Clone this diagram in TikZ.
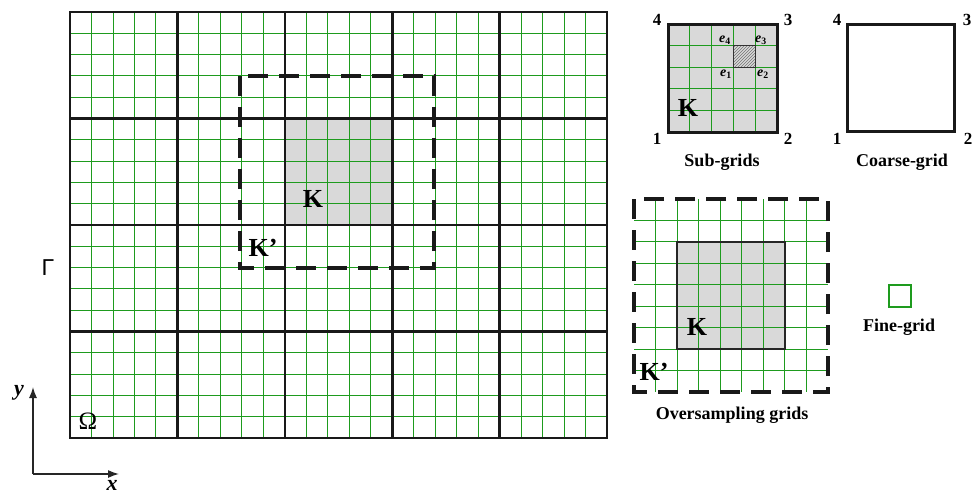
\documentclass[tikz,border=0pt]{standalone}
\usepackage{fontspec}
\setmainfont{Liberation Serif}
\newfontfamily\sansf{Liberation Sans}
\usetikzlibrary{patterns,arrows.meta}
\definecolor{fgreen}{RGB}{30,155,30}
\definecolor{kgray}{RGB}{217,217,217}
\begin{document}
\begin{tikzpicture}[x=1pt,y=-1pt,
 fine/.style={fgreen,line width=0.9pt},
 coarse/.style={black!90,line width=2.6pt},
 dashbox/.style={black!90,line width=3.5pt,dash pattern=on 20pt off 11pt},
 numlbl/.style={font=\fontsize{17}{17}\selectfont\bfseries,inner sep=0},
 caplbl/.style={font=\fontsize{18}{18}\selectfont\bfseries,inner sep=0},
 biglbl/.style={font=\fontsize{26}{26}\selectfont\bfseries,inner sep=0},
 elbl/.style={font=\fontsize{14}{14}\selectfont\bfseries\itshape,inner sep=0},
 axisarrow/.style={-{Latex[length=11pt,width=8pt]},line width=1.4pt,black!85},
]
\useasboundingbox (0,0) rectangle (978,493);

% ---------- main domain ----------
\fill[kgray] (284.8,118.5) rectangle (392.2,225);
\foreach \i in {1,...,24} \draw[fine] ({70+\i*21.48},12) -- ({70+\i*21.48},438);
\foreach \j in {1,...,19} \draw[fine] (70,{12+\j*21.3}) -- (607,{12+\j*21.3});
\foreach \i in {1,...,4} \draw[coarse] ({70+\i*107.4},12) -- ({70+\i*107.4},438);
\foreach \j in {1,...,3} \draw[coarse] (70,{12+\j*106.5}) -- (607,{12+\j*106.5});
\draw[coarse] (70,12) rectangle (607,438);
\draw[dashbox] (240,76) rectangle (434,268);
\node[biglbl] (Kmain) at (313,199) {K};
\node[biglbl] (Kpmain) at (263,248) {K'};
\node[inner sep=0,font=\sansf\fontsize{23}{23}\selectfont] (Gamma) at (48,268) {Γ};
\node[inner sep=0,font=\fontsize{25}{25}\selectfont] (Omega) at (88,421) {Ω};

% ---------- axes ----------
\coordinate (O) at (33,474);
\coordinate (Ytip) at (33,387);
\coordinate (Xtip) at (119,474);
\draw[axisarrow] (O) -- (Ytip);
\draw[axisarrow] (O) -- (Xtip);
\node[inner sep=0,font=\fontsize{22}{22}\selectfont\bfseries\itshape] (ylab) at (19,393) {y};
\node[inner sep=0,font=\fontsize{22}{22}\selectfont\bfseries\itshape] (xlab) at (112,485) {x};

% ---------- sub-grids ----------
\fill[kgray] (668,24) rectangle (777,132);
\fill[pattern=north east lines,pattern color=black!55] (733.4,45.6) rectangle (755.2,67.2);
\foreach \i in {1,...,4} \draw[fine] ({668+\i*21.8},24) -- ({668+\i*21.8},132);
\foreach \j in {1,...,4} \draw[fine] (668,{24+\j*21.6}) -- (777,{24+\j*21.6});
\draw[black!80,line width=1pt] (733.4,45.6) rectangle (755.2,67.2);
\draw[coarse,line width=3pt] (668,24) rectangle (777,132);
\node[elbl] (e4) at (725,40) {e$_{\mathbf 4}$};
\node[elbl] (e3) at (761,40) {e$_{\mathbf 3}$};
\node[elbl] (e1) at (726,74) {e$_{\mathbf 1}$};
\node[elbl] (e2) at (763,74) {e$_{\mathbf 2}$};
\node[biglbl] (Ksub) at (688,108) {K};
\node[numlbl] (s4) at (657,20) {4};
\node[numlbl] (s3) at (788,20) {3};
\node[numlbl] (s1) at (657,139) {1};
\node[numlbl] (s2) at (788,139) {2};
\node[caplbl] (subcap) at (722,162) {Sub-grids};

% ---------- coarse-grid ----------
\draw[coarse,line width=3pt] (847,24) rectangle (954,131);
\node[numlbl] (c4) at (837,20) {4};
\node[numlbl] (c3) at (967,20) {3};
\node[numlbl] (c1) at (837,139) {1};
\node[numlbl] (c2) at (968,139) {2};
\node[caplbl] (coarsecap) at (902,162) {Coarse-grid};

% ---------- oversampling ----------
\fill[kgray] (677.1,241.9) rectangle (784.9,349);
\foreach \i in {1,...,8} \draw[fine] ({634+\i*21.56},199) -- ({634+\i*21.56},392);
\foreach \j in {1,...,8} \draw[fine] (634,{199+\j*21.44}) -- (828,{199+\j*21.44});
\draw[black!85,line width=1.5pt] (677.1,241.9) rectangle (784.9,349);
\draw[dashbox] (634,199) rectangle (828,392);
\node[biglbl] (Kover) at (697,327) {K};
\node[biglbl] (Kpover) at (654,372) {K'};
\node[caplbl] (overcap) at (732,415) {Oversampling grids};

% ---------- fine-grid ----------
\draw[fgreen,line width=1.1pt] (889,285) rectangle (911,307);
\node[caplbl] (finecap) at (899,327) {Fine-grid};
\end{tikzpicture}
\end{document}
